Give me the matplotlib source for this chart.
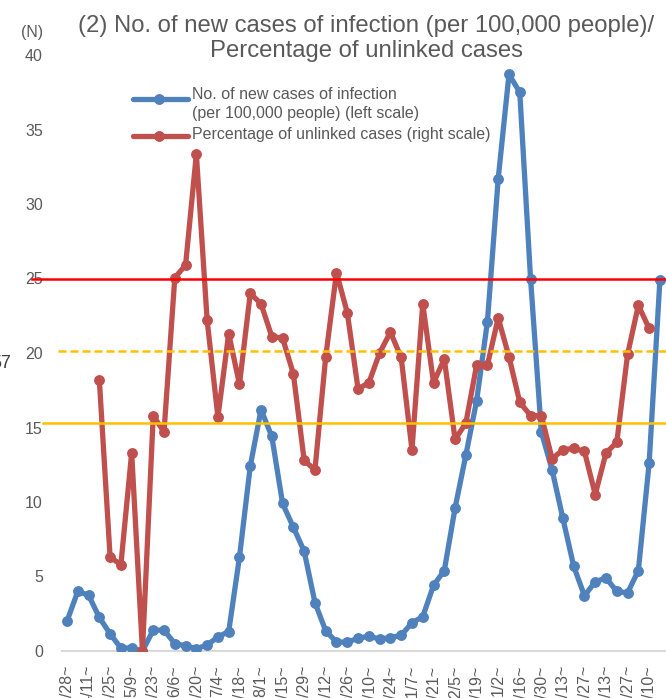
import matplotlib
matplotlib.use("Agg")
import matplotlib.pyplot as plt
from matplotlib.lines import Line2D
from matplotlib.transforms import blended_transform_factory
import numpy as np

plt.rcParams['font.family'] = ['Liberation Sans Narrow', 'Liberation Sans', 'DejaVu Sans']

# ---------------- data ----------------
tick_labels = ["3/28~", "4/11~", "4/25~", "5/9~", "5/23~", "6/6~", "6/20~", "7/4~",
               "7/18~", "8/1~", "8/15~", "8/29~", "9/12~", "9/26~", "10/10~", "10/24~",
               "11/7~", "11/21~", "12/5~", "12/19~", "1/2~", "1/16~", "1/30~", "2/13~",
               "2/27~", "3/13~", "3/27~", "4/10~"]

new_cases = [2.0, 4.0, 3.75, 2.25, 1.15, 0.2, 0.2, 0.0, 1.4, 1.4,
             0.5, 0.35, 0.15, 0.4, 0.95, 1.3, 6.3, 12.4, 16.2, 14.4,
             9.9, 8.3, 6.7, 3.25, 1.35, 0.6, 0.6, 0.85, 1.0, 0.8,
             0.9, 1.05, 1.9, 2.3, 4.4, 5.4, 9.6, 13.15, 16.8, 22.1,
             31.7, 38.7, 37.5, 25.0, 14.7, 12.15, 8.9, 5.7, 3.7, 4.65,
             4.9, 4.0, 3.9, 5.4, 12.6, 24.9]

unlinked_pct = [np.nan, np.nan, np.nan, 36.4, 12.6, 11.6, 26.6, 0.0, 31.6, 29.4,
                50.1, 51.8, 66.7, 44.4, 31.4, 42.6, 35.8, 48.0, 46.6, 42.2,
                42.0, 37.2, 25.6, 24.3, 39.5, 50.8, 45.4, 35.2, 36.0, 40.0,
                42.8, 39.4, 27.0, 46.6, 36.0, 39.2, 28.4, 30.6, 38.4, 38.4,
                44.7, 39.5, 33.4, 31.6, 31.6, 25.8, 27.0, 27.2, 26.8, 21.0,
                26.6, 28.0, 39.8, 46.4, 43.3, np.nan]

ref_values = [25.0, 20.15, 15.28]          # left-scale reference lines
ref_colors = ['#FF0000', '#FFC000', '#FFC000']
ref_styles = ['-', (0, (3.2, 1.6)), '-']
ref_start_px = [32, 58, 43]

title_line1 = "(2) No. of new cases of infection (per 100,000 people)/"
title_line2 = "Percentage of unlinked cases"
legend_blue = "No. of new cases of infection\n(per 100,000 people) (left scale)"
legend_red = "Percentage of unlinked cases (right scale)"

# ---------------- figure ----------------
W, H = 666, 698
fig = plt.figure(figsize=(W / 100, H / 100), dpi=100)
ax_left_px, ax_w_px = 61.6, 603.7
ax_bot_px, ax_h_px = 47, 596
ax = fig.add_axes([ax_left_px / W, ax_bot_px / H, ax_w_px / W, ax_h_px / H])

gray = '#595959'
blue = '#4F81BD'
red = '#C0504D'

x = np.arange(len(new_cases))
ax.set_xlim(-0.5, len(new_cases) - 0.5)
ax.set_ylim(0, 40)

for s in ['top', 'right', 'left']:
    ax.spines[s].set_visible(False)
ax.spines['bottom'].set_color('#D9D9D9')
ax.spines['bottom'].set_linewidth(1.5)

ax.set_yticks(np.arange(0, 41, 5))
ax.tick_params(axis='y', length=0, pad=13.4, labelsize=11.5, labelcolor=gray)
ax.set_xticks(x[::2])
ax.set_xticklabels(tick_labels, rotation=90)
ax.tick_params(axis='x', length=0, pad=10, labelsize=11.5, labelcolor=gray)

ax.plot(x, new_cases, color=blue, lw=3.8, marker='o', ms=6.8,
        solid_joinstyle='round', solid_capstyle='round', zorder=3)

ax2 = ax.twinx()
ax2.set_ylim(0, 80)
ax2.set_xlim(ax.get_xlim())
for s in ax2.spines.values():
    s.set_visible(False)
ax2.tick_params(axis='y', length=0, labelright=False)
ax2.plot(x, unlinked_pct, color=red, lw=3.8, marker='o', ms=6.8,
         solid_joinstyle='round', solid_capstyle='round', zorder=3)

tr = blended_transform_factory(ax2.transAxes, ax.transData)
for v, c, ls, sp in zip(ref_values, ref_colors, ref_styles, ref_start_px):
    x0 = (sp - ax_left_px) / ax_w_px
    ax2.plot([x0, 1.01], [v, v], color=c, lw=1.8, linestyle=ls,
             transform=tr, clip_on=False, zorder=6)

# title
fig.text(366 / W, 1 - 32 / H, title_line1, ha='center', va='baseline',
         fontsize=17.2, color=gray)
fig.text(367 / W, 1 - 57 / H, title_line2, ha='center', va='baseline',
         fontsize=17.2, color=gray)

# axis unit
fig.text(32 / W, 1 - 33 / H, "(N)", ha='center', va='center', fontsize=11.5, color=gray)
# fragment at left edge
fig.text(11 / W, 1 - 363 / H, "57", ha='right', va='center', fontsize=13, color='#404040')

# legend (manual)
for ly, col in [(99, blue), (136, red)]:
    fig.add_artist(Line2D([133 / W, 188 / W], [1 - ly / H, 1 - ly / H],
                          transform=fig.transFigure, color=col, lw=3.8,
                          solid_capstyle='round'))
    fig.add_artist(Line2D([159 / W], [1 - ly / H], transform=fig.transFigure,
                          color=col, marker='o', ms=6.8, lw=0))
fig.text(192 / W, 1 - 99 / H, legend_blue.split('\n')[0], ha='left', va='baseline',
         fontsize=11.5, color=gray)
fig.text(192 / W, 1 - 118 / H, legend_blue.split('\n')[1], ha='left', va='baseline',
         fontsize=11.5, color=gray)
fig.text(192 / W, 1 - 139 / H, legend_red, ha='left', va='baseline',
         fontsize=11.5, color=gray)

fig.savefig("out.png", dpi=100)
